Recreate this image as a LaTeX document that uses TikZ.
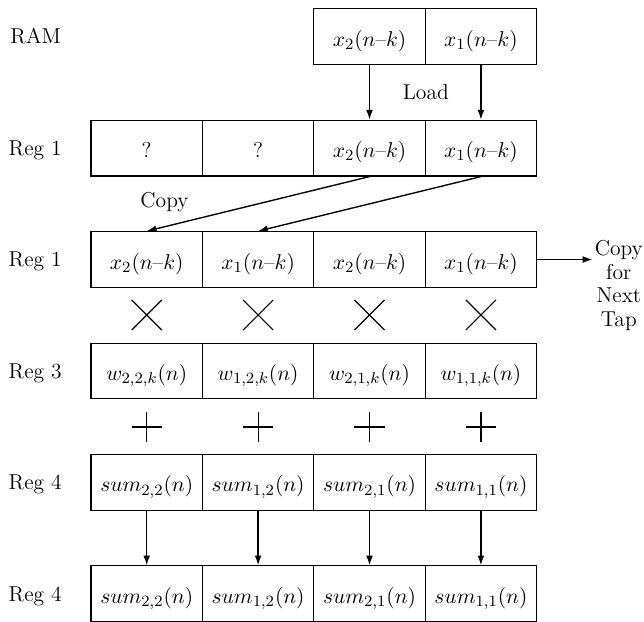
\documentclass[tikz,border=0pt]{standalone}
\usepackage{amsmath}
\usetikzlibrary{arrows.meta, positioning, calc}

\newcommand{\nk}{(n\text{--}k)}

\begin{document}
\begin{tikzpicture}[
  font=\fontsize{11}{12}\selectfont,
  cell/.style={draw, line width=0.6pt, minimum width=2cm, minimum height=1cm, inner sep=0pt, text height=0.34cm, text depth=0pt},
  reglabel/.style={anchor=base west, inner sep=0pt},
  flow/.style={-{Latex[length=5pt, width=3.5pt]}, line width=0.7pt},
  sign/.style={line width=0.6pt},
]
  \useasboundingbox (0,0) rectangle (11.562,-11.167);

  % Row labels
  \node[reglabel] (lram) at (0.18, -0.79) {RAM};
  \node[reglabel] (lreg1) at (0.15, -2.79) {Reg 1};
  \node[reglabel] (lreg1b) at (0.15, -4.79) {Reg 1};
  \node[reglabel] (lreg3) at (0.15, -6.79) {Reg 3};
  \node[reglabel] (lreg4) at (0.15, -8.79) {Reg 4};
  \node[reglabel] (lreg4b) at (0.15, -10.79) {Reg 4};

  % RAM
  \node[cell] (ram3) at (6.634, -0.66) {$x_2\nk$};
  \node[cell] (ram4) at (8.634, -0.66) {$x_1\nk$};

  % Reg 1 after load
  \node[cell] (load1) at (2.634, -2.66) {?};
  \node[cell] (load2) at (4.634, -2.66) {?};
  \node[cell] (load3) at (6.634, -2.66) {$x_2\nk$};
  \node[cell] (load4) at (8.634, -2.66) {$x_1\nk$};

  % Load arrows
  \draw[flow] (ram3.south) -- (load3.north);
  \draw[flow] (ram4.south) -- (load4.north);
  \path (ram3.south east) -- (load3.north east) node[midway] {Load};

  % Reg 1 after copy
  \node[cell] (dup1) at (2.634, -4.66) {$x_2\nk$};
  \node[cell] (dup2) at (4.634, -4.66) {$x_1\nk$};
  \node[cell] (dup3) at (6.634, -4.66) {$x_2\nk$};
  \node[cell] (dup4) at (8.634, -4.66) {$x_1\nk$};

  % Copy arrows
  \draw[flow] (load3.south) -- (dup1.north) node[pos=0.78, above left] {Copy};
  \draw[flow] (load4.south) -- (dup2.north);

  % Copy for next tap
  \node[align=center, inner sep=0pt, anchor=north] (tap) at (11.11, -4.31) {Copy\\for\\Next\\Tap};
  \draw[flow] (dup4.east) -- ([xshift=-1pt]dup4.east -| tap.west);

  % Multiply signs
  \foreach \cx in {2.634, 4.634, 6.634, 8.634} {
    \draw[sign] (\cx-0.27, -5.385) -- (\cx+0.27, -5.925);
    \draw[sign] (\cx-0.27, -5.925) -- (\cx+0.27, -5.385);
  }

  % Reg 3 weights
  \node[cell] (w1) at (2.634, -6.66) {$w_{2,2,k}(n)$};
  \node[cell] (w2) at (4.634, -6.66) {$w_{1,2,k}(n)$};
  \node[cell] (w3) at (6.634, -6.66) {$w_{2,1,k}(n)$};
  \node[cell] (w4) at (8.634, -6.66) {$w_{1,1,k}(n)$};

  % Plus signs
  \foreach \cx in {2.634, 4.634, 6.634, 8.634} {
    \draw[sign] (\cx-0.27, -7.666) -- (\cx+0.27, -7.666);
    \draw[sign] (\cx, -7.396) -- (\cx, -7.936);
  }

  % Reg 4 sums
  \node[cell] (sum1) at (2.634, -8.66) {$sum_{2,2}(n)$};
  \node[cell] (sum2) at (4.634, -8.66) {$sum_{1,2}(n)$};
  \node[cell] (sum3) at (6.634, -8.66) {$sum_{2,1}(n)$};
  \node[cell] (sum4) at (8.634, -8.66) {$sum_{1,1}(n)$};

  % Reg 4 stored
  \node[cell] (out1) at (2.634, -10.66) {$sum_{2,2}(n)$};
  \node[cell] (out2) at (4.634, -10.66) {$sum_{1,2}(n)$};
  \node[cell] (out3) at (6.634, -10.66) {$sum_{2,1}(n)$};
  \node[cell] (out4) at (8.634, -10.66) {$sum_{1,1}(n)$};

  % Store arrows
  \draw[flow] (sum1.south) -- (out1.north);
  \draw[flow] (sum2.south) -- (out2.north);
  \draw[flow] (sum3.south) -- (out3.north);
  \draw[flow] (sum4.south) -- (out4.north);
\end{tikzpicture}
\end{document}
